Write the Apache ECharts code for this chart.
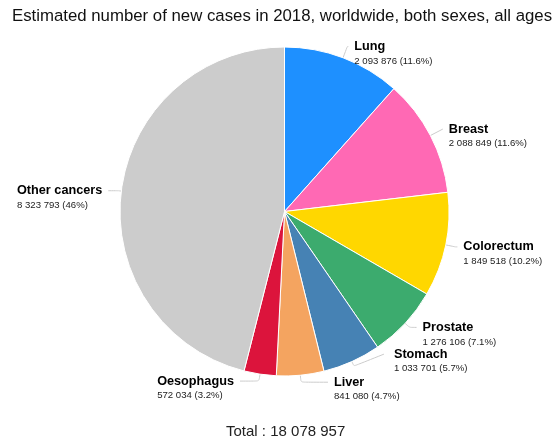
<!DOCTYPE html>
<html>
<head>
<meta charset="utf-8">
<script src="https://cdn.jsdelivr.net/npm/echarts@6/dist/echarts.min.js"></script>
<style>
  html, body { margin: 0; padding: 0; background: #fff; }
  #chart { width: 557px; height: 442px; }
</style>
</head>
<body>
<div id="chart"></div>
<script>
// Cancer sites and estimated new cases (2018, worldwide, both sexes, all ages)
const sites = ['Lung', 'Breast', 'Colorectum', 'Prostate', 'Stomach', 'Liver', 'Oesophagus', 'Other cancers'];
const cases = [2093876, 2088849, 1849518, 1276106, 1033701, 841080, 572034, 8323793];
const colors = ['#1e90ff', '#ff69b4', '#ffd700', '#3cab6e', '#4682b4', '#f4a460', '#dc143c', '#cccccc'];

// Leader line lengths per site: [radial segment, horizontal segment]
const leaders = {
  'Lung': [12, 1], 'Breast': [14, 0], 'Colorectum': [10, 2], 'Prostate': [6, 7],
  'Stomach': [5, 0], 'Liver': [7, 27], 'Oesophagus': [7, 19], 'Other cancers': [3, 10]
};

const total = cases.reduce((a, b) => a + b, 0);
const fmt = n => String(n).replace(/\B(?=(\d{3})+(?!\d))/g, ' ');
const pct = n => String(Number((n / total * 100).toFixed(1)));

const chart = echarts.init(document.getElementById('chart'), null, { renderer: 'canvas' });
chart.setOption({
  animation: false,
  textStyle: { fontFamily: 'Liberation Sans, Arial, sans-serif' },
  title: [{
    text: 'Estimated number of new cases in 2018, worldwide, both sexes, all ages',
    left: 12, top: 8, padding: 0,
    textStyle: { fontSize: 16.8, fontWeight: 'normal', color: '#111' }
  }, {
    text: 'Total : ' + fmt(total),
    left: 226, top: 424, padding: 0,
    textStyle: { fontSize: 15, fontWeight: 'normal', color: '#222' }
  }],
  series: [{
    type: 'pie',
    center: [284.5, 211.5],
    radius: 164.5,
    startAngle: 90,
    clockwise: true,
    avoidLabelOverlap: false,
    itemStyle: { borderColor: '#fff', borderWidth: 1 },
    labelLine: { smooth: 0.2, lineStyle: { color: '#ccc', width: 1 } },
    label: {
      distanceToLabelLine: 6,
      padding: [13, 0, 0, 0],
      formatter: p => '{n|' + p.name + '}\n{v|' + fmt(p.value) + ' (' + pct(p.value) + '%)}',
      rich: {
        n: { fontSize: 12.7, fontWeight: 'bold', color: '#000', lineHeight: 16, align: 'left' },
        v: { fontSize: 9.6, color: '#222', lineHeight: 13, align: 'left' }
      }
    },
    // The Stomach label sits up and to the right, between Prostate and Liver
    labelLayout: p => {
      if (sites[p.dataIndex] !== 'Stomach') return {};
      const [p0, p1] = p.labelLinePoints;
      const end = [p1[0] + 30, p1[1] - 12];
      return { x: end[0] + 10, y: end[1], labelLinePoints: [p0, p1, end] };
    },
    data: sites.map((s, i) => ({
      name: s,
      value: cases[i],
      itemStyle: { color: colors[i] },
      labelLine: { length: leaders[s][0], length2: leaders[s][1] }
    }))
  }]
});
</script>
</body>
</html>
